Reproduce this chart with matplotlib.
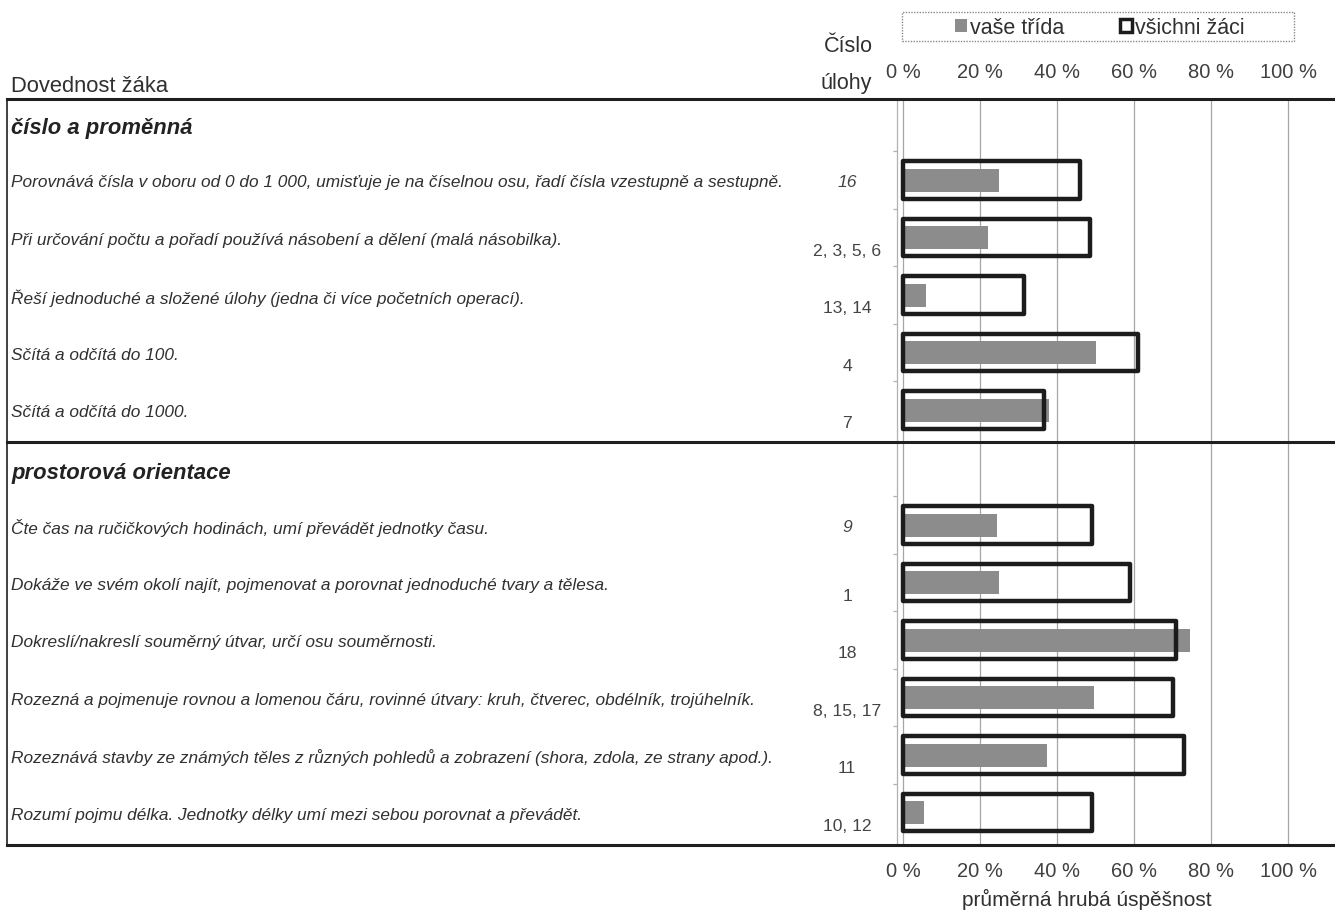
import matplotlib
matplotlib.use("Agg")
import matplotlib.pyplot as plt
from matplotlib.patches import Patch, Rectangle

plt.rcParams['font.family'] = ['Liberation Sans', 'DejaVu Sans']

# data
sections = ["číslo a proměnná", "prostorová orientace"]

skills_1 = [
    "Porovnává čísla v oboru od 0 do 1 000, umisťuje je na číselnou osu, řadí čísla vzestupně a sestupně.",
    "Při určování počtu a pořadí používá násobení a dělení (malá násobilka).",
    "Řeší jednoduché a složené úlohy (jedna či více početních operací).",
    "Sčítá a odčítá do 100.",
    "Sčítá a odčítá do 1000.",
]
tasks_1 = ["16", "2, 3, 5, 6", "13, 14", "4", "7"]
class_1 = [25, 22, 6, 50, 38]
all_1 = [46, 48.5, 31.5, 61, 36.5]

skills_2 = [
    "Čte čas na ručičkových hodinách, umí převádět jednotky času.",
    "Dokáže ve svém okolí najít, pojmenovat a porovnat jednoduché tvary a tělesa.",
    "Dokreslí/nakreslí souměrný útvar, určí osu souměrnosti.",
    "Rozezná a pojmenuje rovnou a lomenou čáru, rovinné útvary: kruh, čtverec, obdélník, trojúhelník.",
    "Rozeznává stavby ze známých těles z různých pohledů a zobrazení (shora, zdola, ze strany apod.).",
    "Rozumí pojmu délka. Jednotky délky umí mezi sebou porovnat a převádět.",
]
tasks_2 = ["9", "1", "18", "8, 15, 17", "11", "10, 12"]
class_2 = [24.5, 25, 74.5, 49.5, 37.5, 5.5]
all_2 = [49, 59, 71, 70, 73, 49]

ticks = [0, 20, 40, 60, 80, 100]
tick_labels = ["0 %", "20 %", "40 %", "60 %", "80 %", "100 %"]

W, H = 1335, 916
fig = plt.figure(figsize=(W / 100, H / 100), dpi=100)

# table area in pixels
x0, x1, ytop, ybot = 7, 1335, 99, 845
ax = fig.add_axes([x0 / W, 1 - ybot / H, (x1 - x0) / W, (ybot - ytop) / H])

px_per_unit = 3.85   # 100 % spans 385 px
zero_px = 903
ax.set_xlim((x0 - zero_px) / px_per_unit, (x1 - zero_px) / px_per_unit)
slot_px, slot0_px = 57.5, 122.5
ax.set_ylim((ybot - slot0_px) / slot_px, (ytop - slot0_px) / slot_px)

text_col = "#303030"
label_x = (11 - zero_px) / px_per_unit
task_x = (847 - zero_px) / px_per_unit

pos = 0
groups = [(skills_1, tasks_1, class_1, all_1), (skills_2, tasks_2, class_2, all_2)]
for gi, (skills, tasks, cls, alls) in enumerate(groups):
    ax.text(label_x, pos + 0.1, sections[gi], fontsize=15.8, fontweight="bold",
            style="italic", va="center", ha="left", color="#222222")
    if gi > 0:
        ax.axhline(pos - 0.44, color="#1f1f1f", lw=2.2, zorder=5, clip_on=False)
    pos += 1
    ys = []
    for i, skill in enumerate(skills):
        ys.append(pos)
        ax.text(label_x, pos + 0.05, skill, fontsize=12.4, style="italic",
                va="center", ha="left", color=text_col)
        off = 0.05 if i == 0 else 0.24
        ax.text(task_x, pos + off, tasks[i], fontsize=12.6,
                style="italic" if i == 0 else "normal",
                va="center", ha="center", color="#444444")
        pos += 1
    ax.barh(ys, cls, height=0.4, color="#8c8c8c", zorder=3)
    ax.barh(ys, alls, height=0.65, fill=False, edgecolor="#1c1c1c",
            linewidth=3.2, joinstyle="round", zorder=4)
    # small category marks on the value axis
    ax.hlines([y - 0.5 for y in ys], -2.6, -1.6, color="#b0b0b0", lw=0.9, zorder=1)

# grid lines in the bar region
for t in ticks:
    ax.axvline(t, color="#a6a6a6", lw=0.9, zorder=1)
ax.axvline(-1.6, color="#b0b0b0", lw=0.9, zorder=1)

ax.set_xticks(ticks)
ax.set_xticklabels(tick_labels)
ax.tick_params(axis="x", top=True, labeltop=True, bottom=True, labelbottom=True,
               length=0, labelsize=14.5, labelcolor="#404040", pad=12)
ax.set_yticks([])

for s in ["top", "bottom"]:
    ax.spines[s].set_linewidth(2.2)
    ax.spines[s].set_color("#1f1f1f")
ax.spines["left"].set_linewidth(1.3)
ax.spines["left"].set_color("#333333")
ax.spines["right"].set_visible(False)

# headers
fig.text(11 / W, 1 - 87 / H, "Dovednost žáka", fontsize=15.8, va="center",
         ha="left", color=text_col)
fig.text(848 / W, 1 - 47 / H, "Číslo", fontsize=15.5, va="center",
         ha="center", color=text_col)
fig.text(846 / W, 1 - 84 / H, "úlohy", fontsize=15.5, va="center",
         ha="center", color=text_col)
fig.text(1087 / W, 1 - 899 / H, "průměrná hrubá úspěšnost", fontsize=15,
         va="center", ha="center", color=text_col)

# legend box
fig.patches.append(Rectangle((902 / W, 1 - 41 / H), 392 / W, 29 / H,
                             transform=fig.transFigure, fill=False,
                             edgecolor="#8a8a8a", lw=1.0, ls=(0, (1, 1))))
handles = [Patch(facecolor="#8c8c8c", edgecolor="none", label="vaše třída"),
           Patch(facecolor="white", edgecolor="#1c1c1c", lw=2.5, label="všichni žáci")]
fig.legend(handles=handles, loc="center", bbox_to_anchor=(1100 / W, 1 - 28 / H),
           ncol=2, frameon=False, fontsize=15.5, handlelength=0.55, handleheight=0.55,
           handletextpad=0.15, columnspacing=2.6, labelcolor=text_col,
           borderpad=0)

fig.savefig("out.png", dpi=100)
